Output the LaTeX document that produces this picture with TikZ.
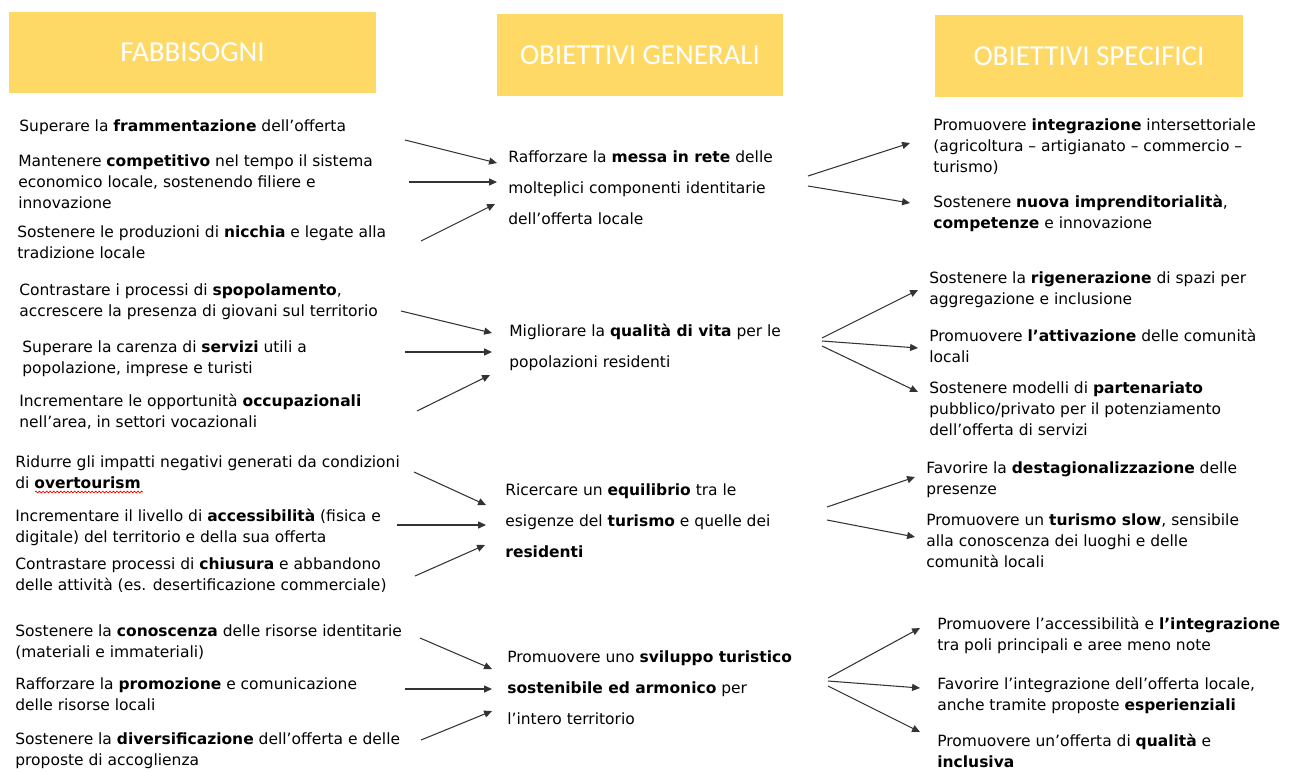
\documentclass[tikz,border=0pt]{standalone}
\usepackage{fontspec}
\setmainfont{DejaVu Sans}
\newfontfamily\headfont{Carlito}
\usetikzlibrary{arrows.meta,decorations.pathmorphing}

\definecolor{headyellow}{HTML}{FFD966}

\tikzset{
  headbox/.style={fill=headyellow, text=white, minimum height=1.63cm, inner sep=0pt,
    font=\headfont\fontsize{16.5}{20}\selectfont},
  need/.style={anchor=base west, align=left, inner sep=0pt,
    font=\fontsize{8.82}{11.95}\selectfont},
  goal/.style={need, font=\fontsize{8.82}{17.64}\selectfont},
  spec/.style={need},
  link/.style={-{Triangle[length=4.5pt,width=4pt]}, line width=0.6pt, black!80}
}

\begin{document}
\begin{tikzpicture}[x=0.02cm, y=-0.02cm]
\useasboundingbox (0,0) rectangle (1293,771);

% 1. Column headers
\node[headbox, minimum width=7.34cm] (hFab) at (192.5,52.5) {FABBISOGNI};
\node[headbox, minimum width=5.72cm] (hGen) at (640,55) {OBIETTIVI GENERALI};
\node[headbox, minimum width=6.16cm] (hSpec) at (1089,56) {OBIETTIVI SPECIFICI};

% 2. Needs (left column), placed at the baseline of their last line
\node[need] (n1) at (19,131) {Superare la \textbf{frammentazione} dell’offerta};
\node[need] (n2) at (18,208) {Mantenere \textbf{competitivo} nel tempo il sistema\\economico locale, sostenendo filiere e\\innovazione};
\node[need] (n3) at (17,258) {Sostenere le produzioni di \textbf{nicchia} e legate alla\\tradizione locale};
\node[need] (n4) at (19,316) {Contrastare i processi di \textbf{spopolamento},\\accrescere la presenza di giovani sul territorio};
\node[need] (n5) at (22,373) {Superare la carenza di \textbf{servizi} utili a\\popolazione, imprese e turisti};
\node[need] (n6) at (19,427) {Incrementare le opportunità \textbf{occupazionali}\\nell’area, in settori vocazionali};
\node[need] (n7) at (15,488) {Ridurre gli impatti negativi generati da condizioni\\di \textbf{overtourism}};
\node[need] (n8) at (15,542) {Incrementare il livello di \textbf{accessibilità} (fisica e\\digitale) del territorio e della sua offerta};
\node[need] (n9) at (15,590) {Contrastare processi di \textbf{chiusura} e abbandono\\delle attività (es. desertificazione commerciale)};
\node[need] (n10) at (15,657) {Sostenere la \textbf{conoscenza} delle risorse identitarie\\(materiali e immateriali)};
\node[need] (n11) at (15,710) {Rafforzare la \textbf{promozione} e comunicazione\\delle risorse locali};
\node[need] (n12) at (15,765) {Sostenere la \textbf{diversificazione} dell’offerta e delle\\proposte di accoglienza};

% spell-check mark under overtourism
\draw[red, line width=0.4pt, decorate, decoration={snake, segment length=2pt, amplitude=0.5pt}]
  (35,492) -- (143,492);

% 3. General goals (middle column)
\node[goal] (g1) at (508,224) {Rafforzare la \textbf{messa in rete} delle\\molteplici componenti identitarie\\dell’offerta locale};
\node[goal] (g2) at (509,367) {Migliorare la \textbf{qualità di vita} per le\\popolazioni residenti};
\node[goal] (g3) at (505,557) {Ricercare un \textbf{equilibrio} tra le\\esigenze del \textbf{turismo} e quelle dei\\\textbf{residenti}};
\node[goal] (g4) at (507,724) {Promuovere uno \textbf{sviluppo turistico}\\\textbf{sostenibile ed armonico} per\\l’intero territorio};

% 4. Specific goals (right column)
\node[spec] (s1) at (933,172) {Promuovere \textbf{integrazione} intersettoriale\\(agricoltura – artigianato – commercio –\\turismo)};
\node[spec] (s2) at (933,228) {Sostenere \textbf{nuova imprenditorialità},\\\textbf{competenze} e innovazione};
\node[spec] (s3) at (929,304) {Sostenere la \textbf{rigenerazione} di spazi per\\aggregazione e inclusione};
\node[spec] (s4) at (929,362) {Promuovere \textbf{l’attivazione} delle comunità\\locali};
\node[spec] (s5) at (929,435) {Sostenere modelli di \textbf{partenariato}\\pubblico/privato per il potenziamento\\dell’offerta di servizi};
\node[spec] (s6) at (926,494) {Favorire la \textbf{destagionalizzazione} delle\\presenze};
\node[spec] (s7) at (926,567) {Promuovere un \textbf{turismo slow}, sensibile\\alla conoscenza dei luoghi e delle\\comunità locali};
\node[spec] (s8) at (937,650) {Promuovere l’accessibilità e \textbf{l’integrazione}\\tra poli principali e aree meno note};
\node[spec] (s9) at (937,710) {Favorire l’integrazione dell’offerta locale,\\anche tramite proposte \textbf{esperienziali}};
\node[spec] (s10) at (937,767) {Promuovere un’offerta di \textbf{qualità} e\\\textbf{inclusiva}};

% 5. Arrow end points (approximate to image)
\coordinate (a1) at (405,140);  \coordinate (t1) at (497,163);
\coordinate (a2) at (409,182);  \coordinate (t2) at (497,182);
\coordinate (a3) at (421,241);  \coordinate (t3) at (495,204);
\coordinate (a4) at (401,311);  \coordinate (t4) at (492,333);
\coordinate (a5) at (405,352);  \coordinate (t5) at (492,352);
\coordinate (a6) at (417,411);  \coordinate (t6) at (490,375);
\coordinate (a7) at (414,472);  \coordinate (t7) at (486,505);
\coordinate (a8) at (397,525);  \coordinate (t8) at (486,525);
\coordinate (a9) at (415,576);  \coordinate (t9) at (485,545);
\coordinate (a10) at (420,638); \coordinate (t10) at (492,669);
\coordinate (a11) at (405,689); \coordinate (t11) at (492,689);
\coordinate (a12) at (421,740); \coordinate (t12) at (492,711);

\coordinate (u1) at (808,176);  \coordinate (v1) at (910,143);
\coordinate (u2) at (808,186);  \coordinate (v2) at (910,203);
\coordinate (u3) at (822,338);  \coordinate (v3) at (918,290);
\coordinate (u4) at (822,341);  \coordinate (v4) at (918,348);
\coordinate (u5) at (822,346);  \coordinate (v5) at (918,392);
\coordinate (u6) at (827,507);  \coordinate (v6) at (915,477);
\coordinate (u7) at (827,520);  \coordinate (v7) at (915,537);
\coordinate (u8) at (828,678);  \coordinate (v8) at (920,628);
\coordinate (u9) at (828,681);  \coordinate (v9) at (920,688);
\coordinate (u10) at (828,686); \coordinate (v10) at (920,732);

% 6. Draw the arrows
\foreach \i in {1,...,12}
  \draw[link] (a\i) -- (t\i);
\foreach \i in {1,...,10}
  \draw[link] (u\i) -- (v\i);

\end{tikzpicture}
\end{document}
